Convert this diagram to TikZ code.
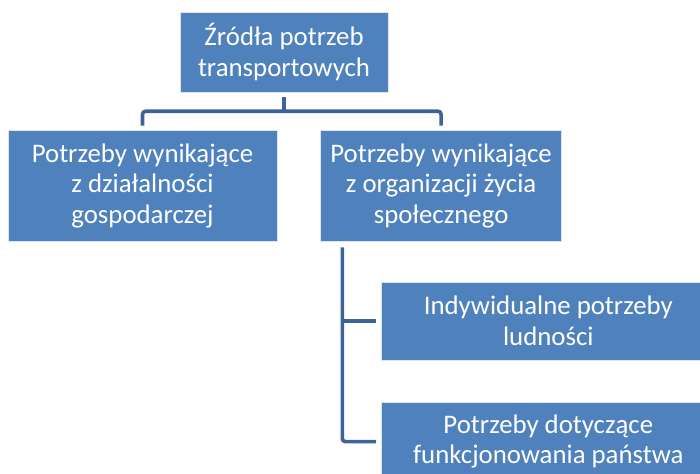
\documentclass[tikz,border=0pt]{standalone}
\usepackage{fontspec}
\setmainfont{Carlito}
\usepackage{tikz}
\usetikzlibrary{calc, positioning}
\definecolor{boxblue}{HTML}{4F81BD}
\definecolor{linkblue}{RGB}{60,100,150}

\begin{document}
\begin{tikzpicture}[
        x=1pt, y=1pt,
        box/.style = {rectangle, fill=boxblue, draw=white!80!boxblue, line width=0.6pt, text=white, align=center, inner sep=0pt, font=\fontsize{26.8}{30.5}\selectfont},
        bracket/.style = {draw=linkblue, line width=3.6pt, rounded corners=3pt}
    ]
        \useasboundingbox (0,0) rectangle (700,-473);
        \clip (0,0) rectangle (700,-473);

        % Root
        \node (root) [box, minimum width=208pt, minimum height=80pt] at (284,-52) {Źródła potrzeb\\transportowych};

        % Second level
        \node (gosp) [box, minimum width=269pt, minimum height=111pt] at (142.5,-185.5) {Potrzeby wynikające\\z działalności\\gospodarczej};
        \node (spol) [box, minimum width=241pt, minimum height=111pt, right=43pt of gosp] {Potrzeby wynikające\\z organizacji życia\\społecznego};

        % Third level
        \node (ludn) [box, minimum width=334pt, minimum height=78pt, anchor=west] at (381,-321) {Indywidualne potrzeby\\ludności};
        \node (panst) [box, minimum width=334pt, minimum height=78pt, below=42pt of ludn] {Potrzeby dotyczące\\funkcjonowania państwa};

        % Connectors
        \coordinate (splitTop) at ($(root.south) + (0,-19)$);
        \draw [bracket] ([yshift=-5pt]root.south) -- (splitTop);
        \draw [bracket] (splitTop) -| ([yshift=4pt]gosp.north);
        \draw [bracket] (splitTop) -| ([yshift=4pt]spol.north);

        \coordinate (spine) at ([xshift=22pt, yshift=-6pt]spol.south west);
        \draw [bracket] (spine) |- ([xshift=-5pt]panst.west);
        \draw [bracket] (spine |- ludn.west) -- ([xshift=-5pt]ludn.west);

    \end{tikzpicture}
\end{document}
